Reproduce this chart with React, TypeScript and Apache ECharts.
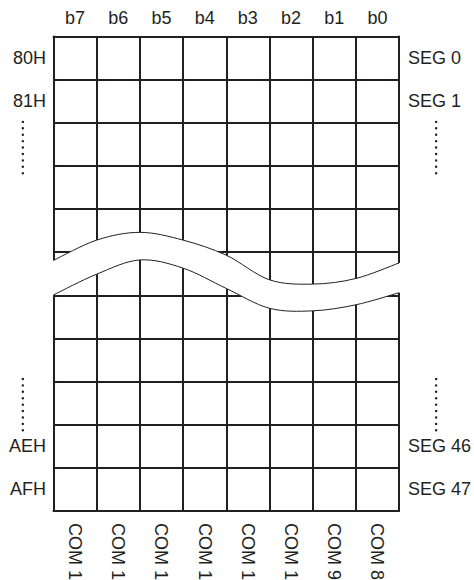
import React, { useEffect, useRef } from "react";
import * as echarts from "echarts";

// Column bit labels (top) and common-line labels (bottom)
const BIT_LABELS = ["b7", "b6", "b5", "b4", "b3", "b2", "b1", "b0"];
const COM_LABELS = ["COM 15", "COM 14", "COM 13", "COM 12", "COM 11", "COM 10", "COM 9", "COM 8"];
// Row address labels (left) and segment labels (right)
const ADDR_LABELS = ["80H", "81H", "", "", "", "", "", "", "", "AEH", "AFH"];
const SEG_LABELS = ["SEG 0", "SEG 1", "", "", "", "", "", "", "", "SEG 46", "SEG 47"];

// Break band (wave) outline points, in grid units (columns from left, rows from top)
const WAVE_X = [0, 1, 2, 3, 4, 5, 6, 7, 8];
const WAVE_TOP = [5.19, 4.72, 4.54, 4.72, 5.07, 5.64, 5.74, 5.61, 5.25];
const WAVE_BOTTOM = [5.99, 5.51, 5.18, 5.37, 5.84, 6.3, 6.36, 6.22, 5.94];

// Vertical ellipsis markers (omitted rows), in grid units
const ELLIPSIS_X = [-0.71, 8.86];
const ELLIPSIS_SPANS = [
  [1.98, 3.19],
  [7.94, 9.15],
];

const INK = "#231f20";
const FONT = "'Liberation Sans', Arial, Helvetica, sans-serif";

function curveSegs(pts: number[][]): string {
  let d = "";
  const n = pts.length;
  for (let i = 0; i < n - 1; i++) {
    const p0 = pts[Math.max(i - 1, 0)];
    const p1 = pts[i];
    const p2 = pts[i + 1];
    const p3 = pts[Math.min(i + 2, n - 1)];
    const c1 = [p1[0] + (p2[0] - p0[0]) / 6, p1[1] + (p2[1] - p0[1]) / 6];
    const c2 = [p2[0] - (p3[0] - p1[0]) / 6, p2[1] - (p3[1] - p1[1]) / 6];
    d += ` C${c1[0]},${c1[1]} ${c2[0]},${c2[1]} ${p2[0]},${p2[1]}`;
  }
  return d;
}

export default function App() {
  const ref = useRef<HTMLDivElement>(null);

  useEffect(() => {
    if (!ref.current) return;
    const chart = echarts.init(ref.current, null, { renderer: "svg" });

    const ellipsisData: number[][] = [];
    ELLIPSIS_X.forEach((x) => ELLIPSIS_SPANS.forEach((s) => ellipsisData.push([x, s[0], s[1]])));

    const labelBase = { color: INK, fontSize: 18, fontFamily: FONT, interval: 0 };

    const option: any = {
      animation: false,
      backgroundColor: "#ffffff",
      grid: {
        left: 53.5,
        top: 36.5,
        width: 345.5,
        height: 474.5,
        containLabel: false,
        outerBoundsMode: "none",
      },
      xAxis: [
        {
          type: "category",
          position: "top",
          data: BIT_LABELS,
          boundaryGap: true,
          axisLine: { show: true, lineStyle: { color: INK, width: 2 } },
          axisTick: { show: false },
          axisLabel: { ...labelBase, margin: 10 },
          splitLine: { show: true, lineStyle: { color: INK, width: 2 } },
        },
        {
          type: "category",
          position: "bottom",
          data: COM_LABELS,
          boundaryGap: true,
          axisLine: { show: true, lineStyle: { color: INK, width: 2 } },
          axisTick: { show: false },
          axisLabel: { ...labelBase, margin: 12, rotate: -90 },
          splitLine: { show: false },
        },
        { type: "value", min: 0, max: 8, show: false, splitLine: { show: false } },
      ],
      yAxis: [
        {
          type: "category",
          position: "left",
          inverse: true,
          data: ADDR_LABELS,
          boundaryGap: true,
          axisLine: { show: true, lineStyle: { color: INK, width: 2 } },
          axisTick: { show: false },
          axisLabel: { ...labelBase, margin: 7.5 },
          splitLine: { show: true, lineStyle: { color: INK, width: 2 } },
        },
        {
          type: "category",
          position: "right",
          inverse: true,
          data: SEG_LABELS,
          boundaryGap: true,
          axisLine: { show: true, lineStyle: { color: INK, width: 2 } },
          axisTick: { show: false },
          axisLabel: { ...labelBase, margin: 9 },
          splitLine: { show: false },
        },
        { type: "value", min: 0, max: 11, inverse: true, show: false, splitLine: { show: false } },
      ],
      series: [
        {
          type: "custom",
          name: "break",
          xAxisIndex: 2,
          yAxisIndex: 2,
          silent: true,
          z: 10,
          data: [[0, 0]],
          renderItem: (params: any, api: any) => {
            const top = WAVE_X.map((x, i) => api.coord([x, WAVE_TOP[i]]));
            const bot = WAVE_X.map((x, i) => api.coord([x, WAVE_BOTTOM[i]]));
            const botRev = bot.slice().reverse();
            const t0 = top[0];
            const tn = top[top.length - 1];
            const b0 = bot[0];
            const bn = bot[bot.length - 1];
            const fill =
              `M${t0[0] - 2},${t0[1]} L${t0[0]},${t0[1]}` +
              curveSegs(top) +
              ` L${tn[0] + 2},${tn[1]} L${bn[0] + 2},${bn[1]} L${bn[0]},${bn[1]}` +
              curveSegs(botRev) +
              ` L${b0[0] - 2},${b0[1]} Z`;
            const topLine = `M${t0[0]},${t0[1]}` + curveSegs(top);
            const botLine = `M${b0[0]},${b0[1]}` + curveSegs(bot);
            return {
              type: "group",
              children: [
                { type: "path", shape: { pathData: fill }, style: { fill: "#ffffff", stroke: null } },
                { type: "path", shape: { pathData: topLine }, style: { fill: null, stroke: INK, lineWidth: 1 } },
                { type: "path", shape: { pathData: botLine }, style: { fill: null, stroke: INK, lineWidth: 1 } },
              ],
            };
          },
        },
        {
          type: "custom",
          name: "ellipsis",
          xAxisIndex: 2,
          yAxisIndex: 2,
          silent: true,
          clip: false,
          z: 10,
          data: ellipsisData,
          renderItem: (params: any, api: any) => {
            const p1 = api.coord([api.value(0), api.value(1)]);
            const p2 = api.coord([api.value(0), api.value(2)]);
            return {
              type: "line",
              shape: { x1: p1[0], y1: p1[1], x2: p2[0], y2: p2[1] },
              style: { stroke: INK, lineWidth: 2.4, lineDash: [0.01, 6.4], lineCap: "round" },
            };
          },
        },
      ],
    };

    chart.setOption(option);
    return () => chart.dispose();
  }, []);

  return (
    <div
      ref={ref}
      style={{ position: "absolute", left: 0, top: 0, width: 474, height: 580, background: "#fff" }}
    />
  );
}
